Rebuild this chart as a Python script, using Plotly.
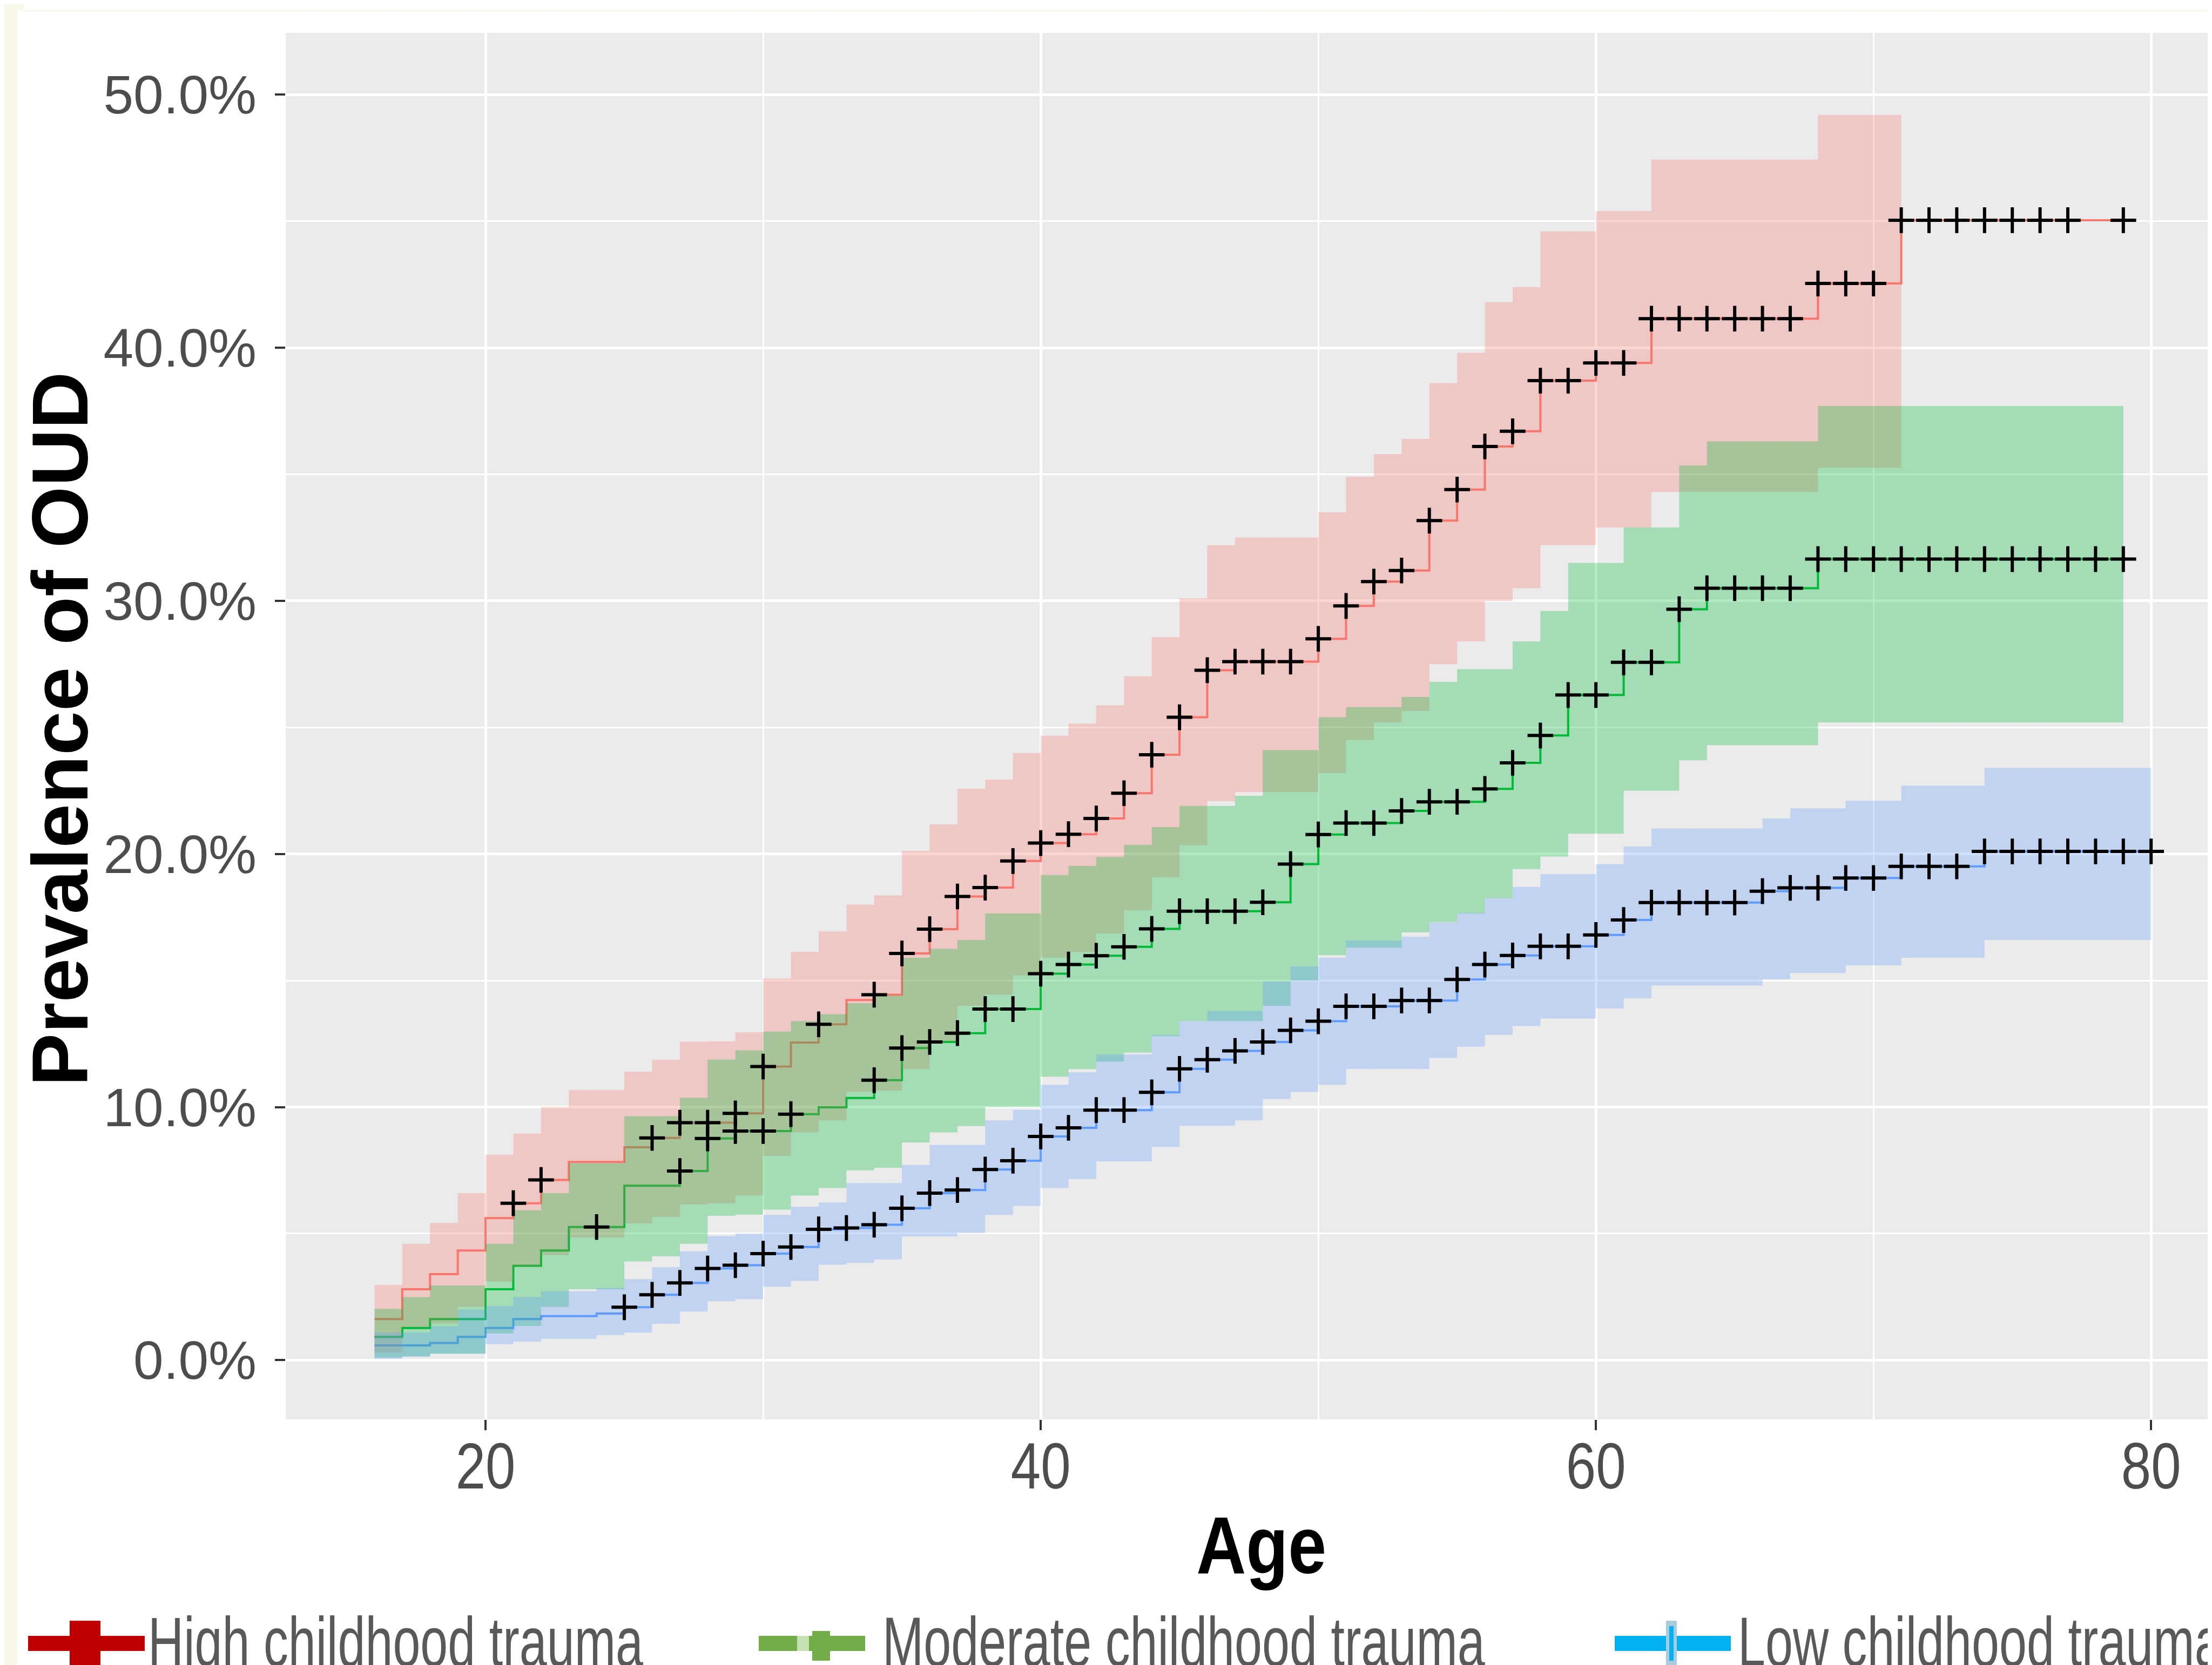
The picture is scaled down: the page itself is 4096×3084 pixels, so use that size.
import plotly.graph_objects as go

# ---------------- data ----------------
age = [16, 17, 18, 19, 20, 21, 22, 23, 24, 25, 26, 27, 28, 29, 30, 31, 32, 33, 34, 35,
       36, 37, 38, 39, 40, 41, 42, 43, 44, 45, 46, 47, 48, 49, 50, 51, 52, 53, 54, 55,
       56, 57, 58, 59, 60, 61, 62, 63, 64, 65, 66, 67, 68, 69, 70, 71, 72, 73, 74, 75,
       76, 77, 78, 79, 80]

N = None
high_est = [1.62, 2.80, 3.40, 4.33, 5.61, 6.20, 7.12, 7.83, 7.83, 8.41, 8.78, 9.38, 9.38, 9.75, 11.60,
            12.55, 13.27, 14.23, 14.44, 16.07, 17.03, 18.32, 18.67, 19.72, 20.43, 20.78, 21.40, 22.40,
            23.92, 25.40, 27.26, 27.60, 27.60, 27.60, 28.50, 29.80, 30.76, 31.20, 33.17, 34.40, 36.10,
            36.70, 38.70, 38.70, 39.40, 39.40, 41.15, 41.15, 41.15, 41.15, 41.15, 41.15, 42.54, 42.54,
            42.54, 45.04, 45.04, 45.04, 45.04, 45.04, 45.04, 45.04, 45.04, 45.04, N]
high_lo = [0.30, 1.30, 1.45, 2.10, 3.10, 3.70, 4.15, 4.85, 4.85, 5.40, 5.65, 6.15, 6.20, 6.50, 8.07,
           9.00, 9.47, 10.60, 10.65, 11.50, 12.60, 14.00, 14.45, 15.20, 15.90, 16.13, 16.86, 17.77,
           19.08, 20.35, 22.09, 22.45, 22.45, 22.45, 23.20, 24.50, 25.20, 25.65, 27.50, 28.40, 30.00,
           30.50, 32.20, 32.20, 32.90, 32.90, 34.30, 34.30, 34.30, 34.30, 34.30, 34.30, 35.25, 35.25,
           35.25, N, N, N, N, N, N, N, N, N, N]
high_hi = [2.97, 4.60, 5.42, 6.60, 8.12, 8.95, 10.00, 10.68, 10.68, 11.40, 11.87, 12.58, 12.60, 12.95,
           15.08, 16.13, 16.94, 18.00, 18.36, 20.12, 21.17, 22.58, 22.94, 23.99, 24.67, 25.15, 25.87,
           27.02, 28.57, 30.10, 32.20, 32.50, 32.50, 32.50, 33.50, 34.90, 35.80, 36.40, 38.60, 39.80,
           41.80, 42.40, 44.60, 44.60, 45.40, 45.40, 47.44, 47.44, 47.44, 47.44, 47.44, 47.44, 49.20,
           49.20, 49.20, N, N, N, N, N, N, N, N, N, N]

mod_est = [0.92, 1.27, 1.62, 1.62, 2.80, 3.73, 4.33, 5.26, 5.26, 6.89, 6.89, 7.47, 8.76, 9.05, 9.05,
           9.72, 9.99, 10.36, 11.06, 12.33, 12.57, 12.92, 13.87, 13.87, 15.27, 15.63, 15.98, 16.33,
           17.04, 17.74, 17.74, 17.74, 18.09, 19.60, 20.77, 21.22, 21.22, 21.70, 22.06, 22.06, 22.57,
           23.60, 24.68, 26.28, 26.28, 27.57, 27.57, 29.67, 30.50, 30.50, 30.50, 30.50, 31.65, 31.65,
           31.65, 31.65, 31.65, 31.65, 31.65, 31.65, 31.65, 31.65, 31.65, 31.65, N]
mod_lo = [0.10, 0.15, 0.25, 0.25, 1.05, 1.35, 2.10, 2.80, 2.80, 3.90, 4.10, 4.60, 5.70, 5.75, 5.95,
          6.50, 6.80, 7.50, 7.60, 8.60, 9.00, 9.25, 10.00, 10.00, 11.20, 11.50, 11.80, 12.15, 12.80,
          13.40, 13.40, 13.40, 14.00, 15.00, 16.00, 16.30, 16.30, 16.90, 17.30, 17.65, 18.25, 19.40,
          19.90, 20.80, 20.80, 22.50, 22.50, 23.70, 24.30, 24.30, 24.30, 24.30, 25.20, 25.20, 25.20,
          25.20, 25.20, 25.20, 25.20, 25.20, 25.20, 25.20, 25.20, N, N]
mod_hi = [2.03, 2.49, 2.95, 2.95, 4.60, 5.92, 6.60, 7.78, 7.78, 9.64, 9.64, 10.37, 11.88, 12.24, 12.98,
          13.40, 13.67, 14.10, 14.40, 15.90, 16.25, 16.60, 17.65, 17.65, 19.17, 19.53, 19.88, 20.36,
          21.06, 21.90, 21.90, 22.30, 24.10, 24.10, 25.40, 25.80, 25.80, 26.20, 26.80, 27.30, 27.30,
          28.40, 29.60, 31.50, 31.50, 32.90, 32.90, 35.35, 36.30, 36.30, 36.30, 36.30, 37.70, 37.70,
          37.70, 37.70, 37.70, 37.70, 37.70, 37.70, 37.70, 37.70, 37.70, N, N]

low_est = [0.58, 0.58, 0.68, 0.92, 1.27, 1.62, 1.74, 1.74, 1.84, 2.09, 2.58, 3.05, 3.62, 3.75, 4.21,
           4.47, 5.17, 5.22, 5.35, 6.00, 6.60, 6.72, 7.53, 7.88, 8.84, 9.18, 9.88, 9.88, 10.58, 11.51,
           11.87, 12.22, 12.57, 13.03, 13.39, 13.98, 13.98, 14.21, 14.21, 15.04, 15.63, 15.99, 16.35,
           16.35, 16.80, 17.39, 18.08, 18.08, 18.08, 18.08, 18.53, 18.66, 18.66, 19.05, 19.05, 19.51,
           19.51, 19.51, 20.10, 20.10, 20.10, 20.10, 20.10, 20.10, 20.10]
low_lo = [0.05, 0.13, 0.26, 0.26, 0.63, 0.73, 0.84, 0.84, 0.99, 1.09, 1.44, 1.92, 2.33, 2.41, 2.90,
          3.13, 3.77, 3.84, 3.98, 4.89, 4.89, 5.03, 5.74, 6.09, 6.80, 7.15, 7.85, 7.85, 8.42, 9.26,
          9.26, 9.47, 10.32, 10.60, 10.88, 11.51, 11.51, 11.51, 11.94, 12.39, 12.85, 13.20, 13.50,
          13.50, 13.90, 14.30, 14.80, 14.80, 14.80, 14.80, 15.05, 15.30, 15.30, 15.60, 15.60, 15.90,
          15.90, 15.90, 16.60, 16.60, 16.60, 16.60, 16.60, 16.60, N]
low_hi = [1.09, 1.09, 1.34, 2.00, 2.14, 2.49, 2.72, 2.72, 2.85, 3.20, 3.67, 4.30, 4.90, 5.00, 5.74,
          6.06, 6.23, 7.00, 7.00, 7.71, 8.50, 8.50, 9.47, 9.89, 10.88, 11.37, 12.08, 12.08, 12.85,
          13.40, 13.80, 13.80, 14.96, 15.56, 15.90, 16.58, 16.58, 16.73, 17.29, 17.67, 18.25, 18.70,
          19.20, 19.20, 19.60, 20.30, 21.00, 21.00, 21.00, 21.00, 21.40, 21.80, 21.80, 22.10, 22.10,
          22.70, 22.70, 22.70, 23.40, 23.40, 23.40, 23.40, 23.40, 23.40, N]

high_censor = [21, 22, 26, 27, 28, 29, 30, 32, 34, 35, 36, 37, 38, 39, 40, 41, 42, 43, 44, 45, 46, 47,
               48, 49, 50, 51, 52, 53, 54, 55, 56, 57, 58, 59, 60, 61, 62, 63, 64, 65, 66, 67, 68, 69,
               70, 71, 72, 73, 74, 75, 76, 77, 79]
mod_censor = [24, 27, 28, 29, 30, 31, 34, 35, 36, 37, 38, 39, 40, 41, 42, 43, 44, 45, 46, 47, 48, 49,
              50, 51, 52, 53, 54, 55, 56, 57, 58, 59, 60, 61, 62, 63, 64, 65, 66, 67, 68, 69, 70, 71,
              72, 73, 74, 75, 76, 77, 78, 79]
low_censor = [25, 26, 27, 28, 29, 30, 31, 32, 33, 34, 35, 36, 37, 38, 39, 40, 41, 42, 43, 44, 45, 46,
              47, 48, 49, 50, 51, 52, 53, 54, 55, 56, 57, 58, 59, 60, 61, 62, 63, 64, 65, 66, 67, 68,
              69, 70, 71, 72, 73, 74, 75, 76, 77, 78, 79, 80]

y_ticks = [0, 10, 20, 30, 40, 50]
y_tick_labels = ["0.0%", "10.0%", "20.0%", "30.0%", "40.0%", "50.0%"]
x_ticks = [20, 40, 60, 80]
legend_labels = ["High childhood trauma", "Moderate childhood trauma", "Low childhood trauma"]

# ---------------- styling ----------------
W, H = 4096, 3084
ML, MT, MR, MB = 521, 53, 0, 463
PW, PH = W - ML - MR, H - MT - MB
ARIAL = "Liberation Sans, Arial, sans-serif"
LINE_COL = ["#F8766D", "#00BA38", "#619CFF"]
FILL_COL = ["rgba(248,118,109,0.3)", "rgba(0,186,56,0.3)", "rgba(97,156,255,0.3)"]
LEG_COL = ["#C00000", "#70AD47", "#00B0F0"]


def pxx(x):
    return (x - ML) / PW


def pyy(y):
    return (MT + PH - y) / PH


def band_xy(lo, hi):
    idx = [i for i in range(len(age)) if lo[i] is not None]
    xu, yu, xl, yl = [], [], [], []
    for i in idx:
        xu += [age[i], age[i + 1]]
        yu += [hi[i], hi[i]]
    for i in reversed(idx):
        xl += [age[i + 1], age[i]]
        yl += [lo[i], lo[i]]
    return xu + xl, yu + yl


series = [(high_est, high_lo, high_hi, high_censor),
          (mod_est, mod_lo, mod_hi, mod_censor),
          (low_est, low_lo, low_hi, low_censor)]

fig = go.Figure()

# step lines first (the ribbons are drawn over them, as in the reference)
for k, (est, lo, hi, cen) in enumerate(series):
    xs = [a for a, v in zip(age, est) if v is not None]
    ys = [v for v in est if v is not None]
    fig.add_trace(go.Scatter(x=xs, y=ys, mode="lines", line=dict(color=LINE_COL[k], width=4, shape="hv"),
                             hoverinfo="skip", showlegend=False))

# confidence ribbons
for k, (est, lo, hi, cen) in enumerate(series):
    bx, by = band_xy(lo, hi)
    fig.add_trace(go.Scatter(x=bx, y=by, mode="lines", fill="toself", fillcolor=FILL_COL[k],
                             line=dict(width=0, color="rgba(0,0,0,0)"), hoverinfo="skip", showlegend=False))

# censor marks
for k, (est, lo, hi, cen) in enumerate(series):
    cy = [est[age.index(a)] for a in cen]
    fig.add_trace(go.Scatter(x=cen, y=cy, mode="markers",
                             marker=dict(symbol="cross-thin", size=34, color="black",
                                         line=dict(color="black", width=6)),
                             hoverinfo="skip", showlegend=False))

shapes = []
cream = "#F8F7E7"


def rect(x0, x1, y0, y1, col):
    shapes.append(dict(type="rect", xref="paper", yref="paper", x0=pxx(x0), x1=pxx(x1), y0=pyy(y1), y1=pyy(y0),
                       fillcolor=col, line=dict(width=0), layer="above"))


# cream border of the original image
rect(0, 24, 0, H, cream)
rect(0, 36, 0, 11, cream)
rect(36, W, 11, 13.5, cream)

# legend keys
rect(44, 260, 3022, 3050, LEG_COL[0])
rect(121, 178, 2994, 3084, LEG_COL[0])
rect(1397, 1594, 3022, 3050, LEG_COL[1])
rect(1468, 1490, 3022, 3050, "#C6E0B4")
rect(1496, 1529, 3013, 3068, LEG_COL[1])
rect(2982, 3197, 3022, 3050, LEG_COL[2])
rect(3077, 3097, 2994, 3078, "#A9CBDD")
rect(3083, 3091, 3004, 3068, LEG_COL[2])

annotations = []
leg_x = [264, 1624, 3208]
for lab, lx in zip(legend_labels, leg_x):
    annotations.append(dict(text=lab, xref="paper", yref="paper", x=pxx(lx), y=pyy(3033), xanchor="left",
                            yanchor="middle", align="left", showarrow=False,
                            font=dict(family=ARIAL, size=130, color="#595959")))

annotations.append(dict(text="<b>Age</b>", xref="paper", yref="paper", x=pxx(2327), y=pyy(2854),
                        xanchor="center", yanchor="middle", showarrow=False,
                        font=dict(family=ARIAL, size=150, color="black")))
annotations.append(dict(text="<b>Prevalence of OUD</b>", xref="paper", yref="paper", x=pxx(103), y=pyy(1342),
                        xanchor="center", yanchor="middle", showarrow=False, textangle=-90,
                        font=dict(family=ARIAL, size=147, color="black")))

fig.update_layout(
    width=W, height=H, margin=dict(l=ML, r=MR, t=MT, b=MB, pad=0),
    paper_bgcolor="white", plot_bgcolor="#EBEBEB",
    shapes=shapes, annotations=annotations, showlegend=False,
    xaxis=dict(range=[12.8, 82.35], tickvals=x_ticks, ticks="outside", ticklen=19, tickwidth=3.5,
               tickcolor="#333333", showgrid=True, gridcolor="white", gridwidth=5, zeroline=False,
               showline=False, tickfont=dict(family=ARIAL, size=120, color="#4D4D4D"),
               ticklabelstandoff=-36,
               minor=dict(dtick=10, tick0=0, showgrid=True, gridcolor="white", gridwidth=3, ticks="")),
    yaxis=dict(range=[-2.34, 52.44], tickvals=y_ticks, ticktext=y_tick_labels, ticks="outside",
               ticklen=19, tickwidth=3.5, tickcolor="#333333", showgrid=True, gridcolor="white", gridwidth=5,
               zeroline=False, showline=False, tickfont=dict(family=ARIAL, size=100, color="#4D4D4D"),
               ticklabelstandoff=14,
               minor=dict(dtick=5, tick0=0, showgrid=True, gridcolor="white", gridwidth=3, ticks="")),
)

# the reference uses a condensed face for the legend, the x labels and "Age":
# narrow those real text elements horizontally (about their left edge or centre) after drawing
squeeze_js = """
var gd = document.getElementById('{plot_id}');
var sq = {"High childhood trauma": [0.705, "left"], "Moderate childhood trauma": [0.705, "left"],
          "Low childhood trauma": [0.705, "left"], "Age": [0.85, "center"]};
function squeeze(t, s, mode) {
  var bb = t.getBBox();
  var a = (mode === "left") ? bb.x : bb.x + bb.width / 2;
  var old = t.getAttribute('transform') || '';
  t.setAttribute('transform', old + ' translate(' + a + ',0) scale(' + s + ',1) translate(' + (-a) + ',0)');
}
gd.querySelectorAll('g.annotation text').forEach(function (t) {
  var c = sq[t.textContent];
  if (c) { squeeze(t, c[0], c[1]); }
});
gd.querySelectorAll('g.xtick text').forEach(function (t) { squeeze(t, 0.83, "center"); });
"""

fig.write_html("out.html", post_script=squeeze_js)
